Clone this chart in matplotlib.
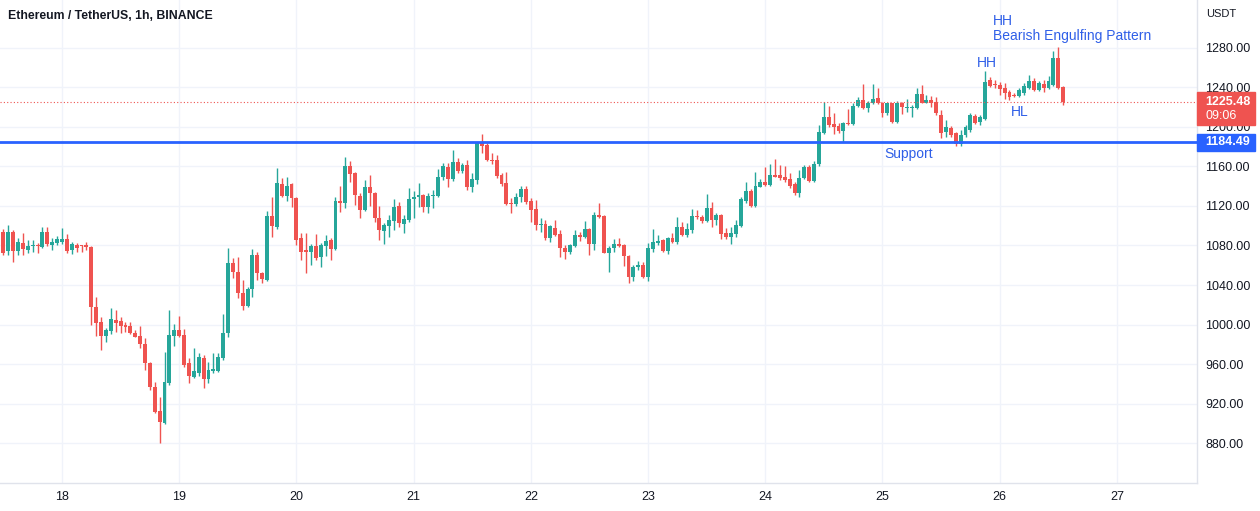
import numpy as np
import matplotlib
matplotlib.use('Agg')
import matplotlib.pyplot as plt
from matplotlib.patches import Rectangle

plt.rcParams['font.family'] = ['Liberation Sans', 'DejaVu Sans']

W, H = 1260, 511
GREEN = '#26a69a'
RED = '#ef5350'
BLUE = '#2962ff'
TXT = '#131722'
GRID = '#f0f3fa'

title = 'Ethereum / TetherUS, 1h, BINANCE'
day_labels = ['18', '19', '20', '21', '22', '23', '24', '25', '26', '27']
price_ticks = [880, 920, 960, 1000, 1040, 1080, 1120, 1160, 1200, 1240, 1280]
support = 1184.49
last_price = 1225.48
countdown = '09:06'
first_hour = -12  # 17th 12:00, hours counted from 18th 00:00

opens = [
    1094, 1074, 1094, 1074, 1083, 1075, 1079, 1081, 1078, 1094,
    1080.5, 1082.5, 1084, 1087, 1075, 1081, 1079.5, 1081, 1078, 1018,
    1003, 988, 993, 1005, 1004, 999, 998.5, 991, 988.3, 980,
    960.7, 937, 912.7, 900.6, 941, 988.3, 994, 989.4, 960.7, 947,
    950.6, 965.8, 944.5, 952.5, 953, 966, 991, 1062, 1053.5, 1031.6,
    1018.7, 1035.6, 1070, 1052.5, 1045, 1109.9, 1098.4, 1142, 1130, 1142,
    1127.8, 1087.3, 1075.5, 1073.8, 1079, 1068, 1079.5, 1085.6, 1076, 1125.4,
    1122.7, 1160.5, 1153, 1130, 1116, 1139, 1133, 1107.5, 1095, 1099.7,
    1105, 1120, 1101.8, 1105.8, 1126.8, 1129.4, 1131, 1118.6, 1130, 1130,
    1149, 1159, 1147, 1165, 1155.7, 1161.5, 1139, 1146.3, 1183.5, 1182,
    1167, 1166.6, 1151.4, 1143, 1123.5, 1122, 1128.8, 1136.9, 1125.4, 1116.7,
    1100.8, 1101.5, 1087.3, 1098, 1091.6, 1077, 1073.8, 1079.5, 1090.6, 1088.3,
    1096.4, 1081.5, 1111, 1110, 1072.8, 1077, 1082, 1080.5, 1069.4, 1047.8,
    1058, 1060.3, 1047.8, 1076, 1083, 1085.6, 1074.8, 1087.3, 1084, 1098.4,
    1090.6, 1096, 1110, 1109, 1105, 1117.6, 1105.8, 1111, 1092.4, 1088.3,
    1091.6, 1099.7, 1125.4, 1135.5, 1120, 1139.6, 1144.6, 1141, 1151.4, 1151.4,
    1149.7, 1147, 1142, 1133, 1148, 1159, 1145.6, 1163, 1193.6, 1210.4,
    1203, 1201, 1196.3, 1204.4, 1203, 1221, 1227.3, 1219, 1224, 1229,
    1224.6, 1214, 1224, 1205.4, 1224, 1219, 1219, 1219, 1233.4, 1224.6,
    1227.3, 1225.6, 1212, 1195, 1198.7, 1193.6, 1182.8, 1192, 1197, 1211,
    1205.4, 1207.8, 1247.6, 1244, 1242.5, 1239, 1235.7, 1232.4, 1231.4, 1234,
    1239, 1247, 1237.5, 1244, 1239, 1242.5, 1269.6, 1240]

closes = [
    1072, 1094, 1074, 1084, 1076, 1079, 1080, 1079, 1094, 1082,
    1084, 1086.5, 1087, 1074, 1081.5, 1077, 1079, 1078, 1018, 1002,
    988, 994, 1006, 1002, 998, 997, 991.7, 987.6, 980, 960.7,
    936.4, 911.7, 901.6, 941.5, 989.4, 994, 988, 959, 947.8, 952.5,
    966.8, 944.5, 953.5, 955, 967.5, 991, 1062, 1053.5, 1031.6, 1018.7,
    1035.6, 1070, 1051.7, 1045.8, 1109.9, 1099.7, 1143, 1130, 1140, 1127.8,
    1085.6, 1073.8, 1073.8, 1079, 1067, 1080.5, 1085, 1076, 1125.4, 1122.7,
    1160.5, 1152.4, 1131, 1116, 1139.6, 1133, 1107.5, 1095.7, 1100.8, 1105.8,
    1119.3, 1102.5, 1106.5, 1126.8, 1129.4, 1131, 1118.6, 1130, 1130.5, 1149,
    1160, 1147, 1165, 1155.7, 1161.5, 1139.6, 1147, 1183.5, 1180.8, 1166.6,
    1166, 1150.4, 1142, 1122, 1122, 1128.8, 1136.9, 1124.4, 1116, 1100.8,
    1101.8, 1087.3, 1099.7, 1090.6, 1077, 1073.8, 1080.5, 1090.6, 1088.3, 1096.4,
    1081.5, 1111, 1109, 1072.8, 1077, 1081.5, 1079.5, 1069.4, 1047.8, 1058,
    1060.3, 1047.8, 1077, 1084, 1085, 1074.8, 1087.3, 1084, 1098.4, 1090.6,
    1096.4, 1110, 1108.6, 1105, 1117.6, 1105.8, 1111, 1091.6, 1088.3, 1092.4,
    1100.8, 1126.8, 1135.5, 1120, 1140, 1144.6, 1141, 1151.4, 1149.7, 1148,
    1146.3, 1140.2, 1133, 1148, 1159, 1145.6, 1163, 1195.3, 1210.4, 1202,
    1199.7, 1196.3, 1204.4, 1203, 1221, 1227.3, 1219, 1224.6, 1228, 1224,
    1213.9, 1224, 1205.4, 1224, 1220.6, 1220, 1220, 1233.4, 1224.6, 1227.3,
    1224.6, 1214.6, 1194, 1199.7, 1192, 1182.8, 1192, 1199.7, 1212, 1204.4,
    1209.8, 1246, 1241.5, 1242.5, 1238.2, 1234, 1230, 1231.4, 1237.5, 1241.5,
    1247, 1237.5, 1245, 1239, 1247, 1269.6, 1239, 1225.48]

highs = [
    1097, 1101, 1096, 1087.3, 1092.4, 1085.6, 1085.6, 1083, 1099, 1099,
    1087.3, 1089.6, 1097.7, 1091.6, 1084, 1083, 1080.5, 1084, 1079, 1028,
    1008, 996, 1017, 1014.7, 1008, 1003, 1003, 994.4, 998.5, 986,
    962.3, 942, 927, 972.5, 1014.7, 1001, 1008.6, 995, 965.8, 976,
    971.5, 969, 962.3, 971, 970.8, 1011, 1077, 1067, 1068, 1045,
    1038.3, 1076, 1073.8, 1053.5, 1115.2, 1128.8, 1158, 1148, 1149.7, 1143,
    1129.4, 1092.4, 1092.4, 1082, 1091.6, 1083, 1090.6, 1087.3, 1129.4, 1140.2,
    1170, 1165.9, 1154.7, 1132.8, 1146.3, 1151.4, 1134.5, 1120, 1103, 1110.9,
    1126.8, 1124.4, 1110.9, 1137.9, 1135.5, 1143.6, 1132, 1133.5, 1136.2, 1157.2,
    1163.2, 1164, 1176.7, 1168.3, 1163.2, 1166.6, 1153, 1185, 1193, 1183.5,
    1174, 1171.6, 1153.7, 1154.7, 1127.8, 1132.8, 1140.2, 1140.2, 1127.8, 1126,
    1107.5, 1105.8, 1100.8, 1105.8, 1095.7, 1080.5, 1082, 1095.7, 1094, 1105,
    1097.4, 1114.2, 1123.5, 1110.9, 1079, 1086.3, 1087.3, 1081.5, 1070.4, 1060.3,
    1064.6, 1063.6, 1083, 1096.4, 1090.6, 1086.3, 1088.9, 1092.4, 1109.2, 1104,
    1102.5, 1116.7, 1116, 1110.9, 1132, 1124.4, 1112.6, 1112, 1097.4, 1099,
    1105.8, 1128.8, 1144.6, 1136.9, 1154.7, 1147, 1159, 1162.5, 1168, 1161.5,
    1160.5, 1153.7, 1144.6, 1156.4, 1161.5, 1161.5, 1165.9, 1202, 1225.6, 1221,
    1213.9, 1203.7, 1205.4, 1217.9, 1224, 1230, 1244, 1226.6, 1244, 1239,
    1225.6, 1224.6, 1224.6, 1226.6, 1225.6, 1228, 1222.3, 1239.2, 1242.5, 1232.4,
    1231.4, 1230.7, 1217, 1207, 1201, 1195.3, 1197, 1202, 1214.5, 1213.2,
    1212, 1257, 1250.3, 1247.6, 1245.9, 1244.2, 1237.5, 1234.8, 1239.2, 1244.2,
    1252.7, 1249.3, 1246.9, 1247.6, 1251.6, 1277, 1280.7, 1241.5]

lows = [
    1070.4, 1070, 1063.6, 1070, 1070, 1072, 1073.8, 1072.7, 1077, 1079.5,
    1075.5, 1081, 1082, 1072, 1071, 1073.8, 1073.8, 1075.5, 999, 988,
    974, 982.6, 990, 992.7, 991.7, 992.7, 990, 987, 976, 954,
    934, 910, 880.3, 899, 938.7, 978, 987, 957, 940.4, 945.5,
    947.8, 935.4, 940.4, 950.6, 952.2, 964, 987.6, 1046.8, 1026.5, 1014.7,
    1017.4, 1027.5, 1045, 1042.3, 1044, 1088.3, 1096.4, 1128.8, 1125.4, 1118.6,
    1080.5, 1065.3, 1052.5, 1060.3, 1065.3, 1058, 1069.4, 1065.3, 1075.5, 1114.2,
    1117.6, 1144.6, 1121, 1107.5, 1115, 1120, 1104, 1085.6, 1082, 1088.3,
    1095.7, 1099, 1092.4, 1104, 1107.5, 1118.6, 1114.2, 1113.2, 1117.6, 1128.8,
    1146.3, 1139.6, 1145.6, 1153.7, 1153, 1136.2, 1134.5, 1142, 1173.4, 1166,
    1163, 1148, 1140.2, 1121, 1113.2, 1120, 1124.4, 1122, 1104, 1095.7,
    1094, 1085.6, 1084, 1089.6, 1068, 1066, 1071.4, 1078, 1085, 1087.3,
    1070, 1075.5, 1107.5, 1072, 1053.5, 1073.8, 1078, 1059, 1042.3, 1044.3,
    1055.2, 1046.8, 1044.3, 1073.8, 1080.5, 1073.8, 1071.4, 1083, 1082, 1089.6,
    1088.9, 1093, 1107, 1103, 1104, 1099, 1100.8, 1086.3, 1086.3, 1082,
    1088.9, 1098.4, 1122.7, 1119.3, 1119.3, 1139, 1140.2, 1140.2, 1149, 1146.3,
    1144.6, 1137.9, 1131, 1129.4, 1147, 1144.6, 1144.6, 1160, 1192.9, 1200.3,
    1193, 1194.2, 1185, 1202, 1202, 1220, 1218, 1215.5, 1223, 1223,
    1209.8, 1212, 1204.4, 1204.4, 1213.2, 1215.5, 1210.4, 1218, 1224, 1224,
    1220.6, 1212, 1188.6, 1190.2, 1190.2, 1180.7, 1180.7, 1190.2, 1195.3, 1203,
    1202, 1207, 1240.8, 1239, 1232.4, 1228, 1227.3, 1230, 1230, 1232.4,
    1238.2, 1236.8, 1236.8, 1235.7, 1238.2, 1241.5, 1238.2, 1222]

o = np.array(opens)
c = np.array(closes)
h = np.maximum(np.array(highs), np.maximum(o, c))
l = np.minimum(np.array(lows), np.minimum(o, c))
x = first_hour + np.arange(len(o))
up = c >= o
cols = np.where(up, GREEN, RED)

fig = plt.figure(figsize=(W / 100, H / 100), dpi=100)
ax = fig.add_axes([0, 1 - 483 / H, 1197 / W, 483 / H])

ax.set_xlim(-12.69, 232.4)
ax.set_ylim(839.5, 1328.6)

ax.grid(True, color=GRID, lw=1)
ax.set_axisbelow(True)

ax.vlines(x, l, h, colors=cols, lw=1, zorder=2)
body = np.maximum(np.abs(c - o), 1.0)
ax.bar(x, body, bottom=np.minimum(o, c), width=0.8, color=cols, lw=0, zorder=3)

ax.axhline(support, color=BLUE, lw=2, zorder=4)
ax.axhline(last_price, color=RED, lw=0.8, ls=(0, (1, 2)), zorder=4)

# annotations
ann = dict(color='#2f5fe8', fontsize=10, va='center')
ax.text(173.4, 1172.7, 'Support', ha='center', **ann)
ax.text(189.4, 1264.8, 'HH', ha='center', **ann)
ax.text(196.1, 1215.2, 'HL', ha='center', **ann)
ax.text(190.6, 1307.3, 'HH', ha='left', **ann)
ax.text(190.6, 1292.2, 'Bearish Engulfing Pattern', ha='left', **ann)

# axes
ax.set_xticks(np.arange(len(day_labels)) * 24)
ax.set_xticklabels(day_labels)
ax.set_yticks(price_ticks)
ax.set_yticklabels(['%.2f' % p for p in price_ticks])
ax.yaxis.tick_right()
ax.tick_params(axis='both', length=0, labelsize=9, colors=TXT)
ax.tick_params(axis='y', pad=6)
ax.tick_params(axis='x', pad=6)
for s in ['top', 'left']:
    ax.spines[s].set_visible(False)
for s in ['right', 'bottom']:
    ax.spines[s].set_color('#e0e3eb')
    ax.spines[s].set_linewidth(1)

# price labels on the right scale
yt = ax.get_yaxis_transform()
bw = 58 / 1197
tx = 1.0 + 8 / 1197
ax.add_patch(Rectangle((1.0, last_price - 23.5), bw, 33.5, transform=yt,
                       color=RED, clip_on=False, zorder=6))
ax.text(tx, last_price, '%.2f' % last_price, transform=yt, color='white',
        fontsize=9, fontweight='bold', va='center', ha='left', clip_on=False, zorder=7)
ax.text(tx, last_price - 14, countdown, transform=yt, color='white',
        fontsize=9, va='center', ha='left', clip_on=False, zorder=7)
ax.add_patch(Rectangle((1.0, support - 8.7), bw, 17.4, transform=yt,
                       color=BLUE, clip_on=False, zorder=6))
ax.text(tx, support, '%.2f' % support, transform=yt, color='white',
        fontsize=9, fontweight='bold', va='center', ha='left', clip_on=False, zorder=7)

fig.text(1206 / W, 1 - 14 / H, 'USDT', color=TXT, fontsize=8, va='center', ha='left')
fig.text(8 / W, 1 - 16 / H, title, color=TXT, fontsize=8.8, fontweight='bold',
         va='center', ha='left')

fig.savefig('out.png', dpi=100, facecolor='white')
